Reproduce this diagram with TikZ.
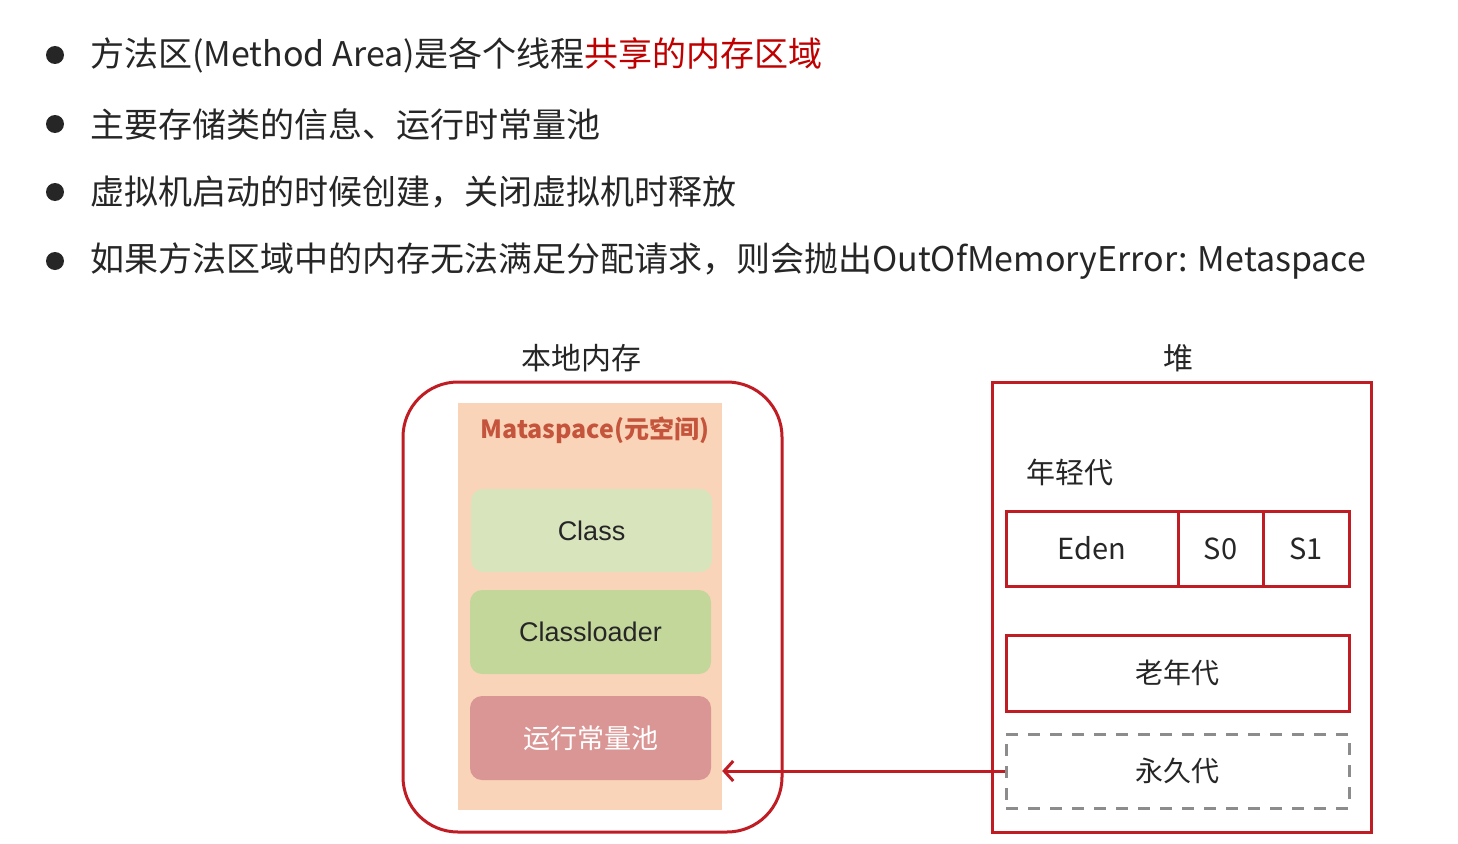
\documentclass[tikz,border=0pt]{standalone}
\usepackage{fontspec}
\setmainfont{Noto Sans CJK SC}
\newfontfamily\arialf{Liberation Sans}
\usetikzlibrary{arrows.meta}
\definecolor{redline}{RGB}{192,28,36}
\definecolor{txt}{RGB}{38,38,38}
\definecolor{hired}{RGB}{192,0,0}
\definecolor{peach}{RGB}{250,212,184}
\definecolor{metared}{RGB}{196,84,60}
\definecolor{lgreen}{RGB}{216,228,188}
\definecolor{mgreen}{RGB}{196,215,155}
\definecolor{pinkred}{RGB}{218,150,148}
\definecolor{dashgray}{RGB}{140,140,140}
\tikzset{
  bulletdot/.style={circle, fill=txt, minimum size=18pt, inner sep=0pt},
  bullettext/.style={anchor=west, inner sep=0pt, text=txt, font=\fontsize{34}{40}\selectfont},
  title/.style={inner sep=0pt, text=txt, font=\fontsize{30}{34}\selectfont},
  innerbox/.style={rounded corners=12pt, inner sep=0pt, font=\arialf\fontsize{27}{30}\selectfont, text=txt},
  heapbox/.style={draw=redline, line width=3pt, inner sep=0pt, text=txt, font=\fontsize{29}{34}\selectfont},
}
\begin{document}
\begin{tikzpicture}[x=1pt,y=-1pt]
\path[fill=white] (0,0) rectangle (1458,843);
% bullets
\node[bulletdot] (d1) at (55,55) {};
\node[bulletdot] (d2) at (55,124) {};
\node[bulletdot] (d3) at (55,192) {};
\node[bulletdot] (d4) at (55,261) {};
\node[bullettext] (t1) at (90,55) {方法区(Method Area)是各个线程\textcolor{hired}{共享的内存区域}};
\node[bullettext] (t2) at (90,124) {主要存储类的信息、运行时常量池};
\node[bullettext] (t3) at (90,192) {虚拟机启动的时候创建，关闭虚拟机时释放};
\node[bullettext] (t4) at (90,261) {如果方法区域中的内存无法满足分配请求，则会抛出OutOfMemoryError: Metaspace};
% native memory
\node[title] (ntitle) at (581,358) {本地内存};
\node[draw=redline, line width=3pt, rounded corners=55pt, minimum width=379pt, minimum height=450pt, inner sep=0pt] (native) at (592.5,607) {};
\node[fill=peach, minimum width=264pt, minimum height=407pt, inner sep=0pt] (meta) at (590,606.5) {};
\node[inner sep=0pt, text=metared, font=\bfseries\fontsize{25}{30}\selectfont] (metat) at (595,430) {Mataspace(元空间)};
\node[innerbox, fill=lgreen, minimum width=241pt, minimum height=83pt] (class) at (591.5,530.5) {Class};
\node[innerbox, fill=mgreen, minimum width=241pt, minimum height=84pt] (loader) at (590.5,632) {Classloader};
\node[innerbox, fill=pinkred, minimum width=241pt, minimum height=84pt, text=white, font=\fontsize{27}{30}\selectfont] (pool) at (590.5,738) {运行常量池};
% heap
\node[title] (htitle) at (1178,358) {堆};
\node[draw=redline, line width=3pt, minimum width=379pt, minimum height=450pt, inner sep=0pt] (heap) at (1181.5,607) {};
\node[title, anchor=west, font=\fontsize{29}{34}\selectfont] (young) at (1026,472) {年轻代};
\node[heapbox, minimum width=172pt, minimum height=75pt] (eden) at (1092,548.5) {Eden};
\node[heapbox, minimum width=85pt, minimum height=75pt] (s0) at (1220.5,548.5) {S0};
\node[heapbox, minimum width=86pt, minimum height=75pt] (s1) at (1306,548.5) {S1};
\node[heapbox, minimum width=343pt, minimum height=76pt, font=\fontsize{28}{34}\selectfont] (old) at (1177.5,673) {老年代};
\node[draw=dashgray, line width=3pt, dash pattern=on 12pt off 10pt, minimum width=343pt, minimum height=74pt, inner sep=0pt, text=txt, font=\fontsize{28}{34}\selectfont] (perm) at (1177.5,771) {永久代};
% arrow
\draw[redline, line width=3pt, -{Straight Barb[length=9pt,width=20pt]}] (perm.west) -- (meta.east |- perm.west);
\end{tikzpicture}
\end{document}
